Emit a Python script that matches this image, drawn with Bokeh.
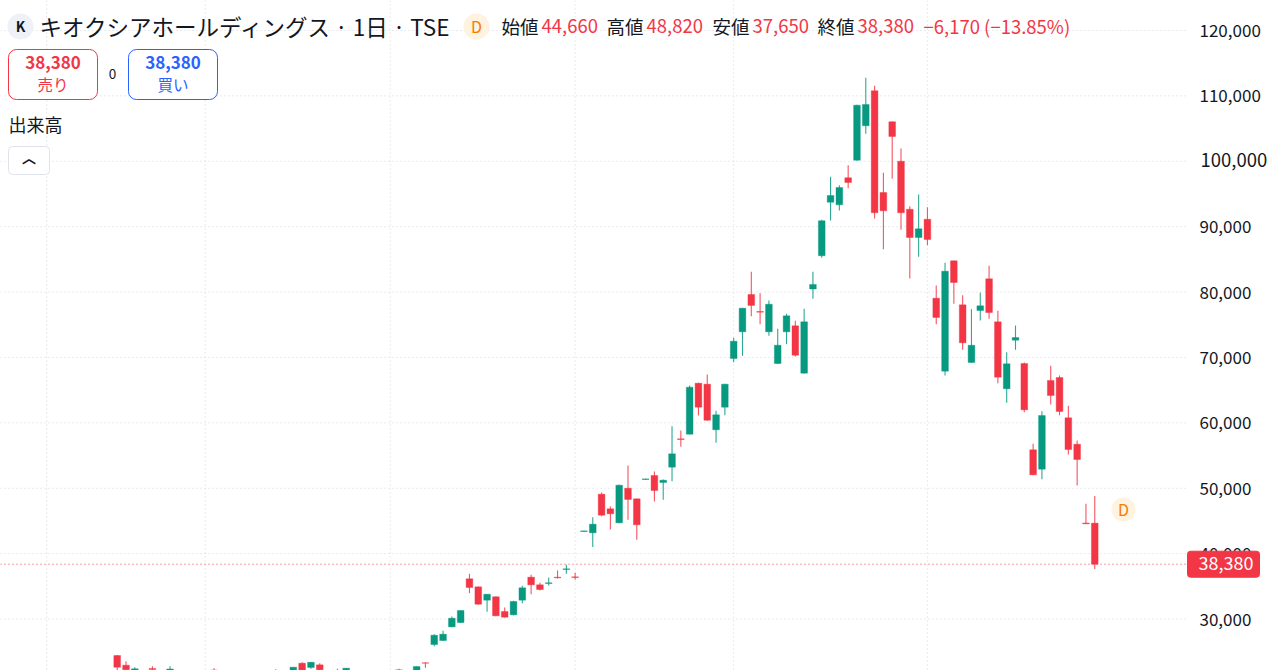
from bokeh.plotting import figure
from bokeh.models import (Range1d, LinearAxis, FixedTicker, Span, Label, BoxAnnotation,
                          ColumnDataSource, NumeralTickFormatter)
from bokeh.core.properties import value
from bokeh.embed import file_html
from bokeh.resources import INLINE

RED = "#f23645"
GREEN = "#089981"
INK = "#131722"
FONT = "Noto Sans CJK JP"

# session number, open, high, low, close (yen)
session = [0,1,2,4,6,11,18,20,21,22,23,25,26,32,34,35,36,37,38,39,40,41,42,43,44,45,46,47,48,49,50,51,52,53,54,55,56,57,58,59,
           60,61,62,63,64,65,66,67,68,69,70,71,72,73,74,75,76,77,78,79,80,81,82,83,84,85,86,87,88,89,90,91,92,93,94,95,96,97,98,99,
           100,101,102,103,104,105,106,107,108,109,110,111]
opens = [24420,22940,21800,22430,22200,22200,21900,21820,23240,22590,22990,22120,21820,22230,21820,23300,26100,26710,28800,29460,
         36150,34920,32880,33400,31150,30640,32880,36400,35230,35430,36400,37570,36450,43380,43180,49090,46850,44710,50000,48380,
         51330,51950,50880,53220,57560,58260,66060,65910,58940,62390,69840,73920,79630,77030,73920,69070,73920,74840,67590,80470,
         85550,93740,93340,97470,100170,105430,110780,95230,106040,100010,92670,88340,91140,79060,67900,84780,78050,69230,77180,82030,
         75450,65210,72640,69070,55880,52910,66480,66930,60770,56730,44680,44660]
highs = [24500,23550,22630,22780,22780,22480,22320,22660,23390,23420,23240,22380,22510,22380,22780,23350,27680,28200,30380,31350,
         36910,34970,33820,33440,31760,32780,35080,36760,35540,36350,37420,38290,37070,43500,45570,49350,47200,50570,53480,48430,
         51450,52560,51330,59490,58830,65710,66120,67390,61840,65970,73000,77590,83100,79830,78710,74380,76680,75600,77440,83100,
         91050,97630,96340,99400,108640,112770,111540,98240,106080,101950,93130,94920,92980,81000,84470,84830,79520,77380,79930,84010,
         77130,70800,74880,69230,56800,61780,68720,67240,62610,57300,47620,48820]
lows = [22000,21820,21500,21900,21900,21800,21700,21500,21500,22380,21970,21800,21500,21900,21500,22540,25840,26640,28730,29400,
        33950,32170,31100,30430,30180,30560,32420,33790,34360,35120,36200,36910,36000,43350,41010,45720,43690,44650,45170,42110,
        51310,47970,48230,51070,56340,58210,61120,60310,56950,61170,69270,70250,76310,75080,73310,69010,72030,70140,67540,78970,
        85240,90940,92470,95880,100070,104200,91250,86550,97320,89520,82070,85390,87170,75080,67240,78200,71170,69170,75650,75910,
        66060,63060,71170,61630,51990,51380,62800,61170,55160,50420,44530,37650]
closes = [22630,22230,22380,22280,22350,22050,22120,22630,21820,23390,22230,21970,22480,22120,22730,23250,27520,27680,30120,31300,
          34820,32260,33790,30490,30280,32680,34770,35230,34510,35540,36300,37680,36350,43480,44500,45880,46090,50460,48280,44410,
          51430,49650,51230,55260,57450,65450,62390,60400,61230,65910,72480,77530,77950,76920,78140,71870,76370,70340,75450,81160,
          90900,94770,95990,96750,108580,108680,92120,92430,103790,92120,88340,89670,88040,76110,83190,81460,72240,71870,77900,76870,
          66980,69030,73050,61990,52050,61120,64180,61730,55920,54390,44560,38380]

price_ticks = [30000,40000,50000,60000,70000,80000,90000,100000,110000,120000]
session_grid = [-8,10,31,52,70,92]
last_close = 38380
dividend_session = 114.26
dividend_price = 46750

header_quotes = [("始値", "44,660", 501, 541), ("高値", "48,820", 606, 646),
                 ("安値", "37,650", 712, 752), ("終値", "38,380", 817, 857)]

W, H = 1280, 670
Y_TOP, Y_BOTTOM = 124588, 22125
X_LEFT, X_PANE_END, X_RIGHT = -13.25, 121.3, 132.09
p = figure(width=W, height=H, output_backend="svg", toolbar_location=None,
           x_range=Range1d(X_LEFT, X_RIGHT), y_range=Range1d(Y_BOTTOM, Y_TOP),
           min_border_left=0, min_border_top=0, min_border_bottom=0, min_border_right=0,
           y_axis_location=None, x_axis_location=None)
p.outline_line_color = None
p.background_fill_color = "white"
p.border_fill_color = "white"
p.grid.visible = False

# negative standoff: the labels are drawn back over the right end of the frame,
# so the frame keeps the whole width and the price tag can sit on top of them
axis = LinearAxis(ticker=FixedTicker(ticks=price_ticks), formatter=NumeralTickFormatter(format="0,0"))
axis.major_tick_line_color = None
axis.minor_tick_line_color = None
axis.axis_line_color = None
axis.major_label_standoff = -87
axis.major_label_text_font = FONT
axis.major_label_text_font_size = "17px"
axis.major_label_text_color = INK
axis.major_label_overrides = {100000: ""}
p.add_layout(axis, "right")

GRID = "#d3d6dd"
p.segment([X_LEFT] * len(price_ticks), price_ticks, [X_PANE_END] * len(price_ticks), price_ticks,
          line_color=GRID, line_width=1, line_dash="1 3", level="underlay")
for s in session_grid:
    p.add_layout(Span(location=s, dimension="height", line_color=GRID, line_width=1, line_dash="1 3", level="underlay"))

rows = list(zip(session, opens, highs, lows, closes))
for color, pick in ((RED, lambda r: r[4] < r[1]), (GREEN, lambda r: r[4] >= r[1])):
    sel = [r for r in rows if pick(r)]
    src = ColumnDataSource(dict(x=[r[0] for r in sel], o=[r[1] for r in sel], h=[r[2] for r in sel],
                                l=[r[3] for r in sel], c=[r[4] for r in sel]))
    p.segment("x", "h", "x", "l", source=src, line_color=color, line_width=1.1, line_alpha=0.85)
    p.vbar("x", 0.76, "o", "c", source=src, fill_color=color, line_color=color, line_width=0.4)

p.segment([X_LEFT], [last_close], [X_PANE_END], [last_close], line_color=RED, line_width=1, line_dash="1 3")

def tx(text, x, y, color=INK, size=16, align="left", weight="normal"):
    """x, y are pixels measured from the page's top left corner"""
    p.add_layout(Label(x=x, y=H - y, x_units="screen", y_units="screen", text=text, text_color=color,
                       text_font=FONT, text_font_size=f"{size}px", text_align=align, text_baseline="middle",
                       text_font_style=weight))

def box(l, r, t, b, fill, line, radius):
    p.add_layout(BoxAnnotation(left=l, right=r, top=H - t, bottom=H - b,
                               left_units="screen", right_units="screen", top_units="screen", bottom_units="screen",
                               fill_color=fill, fill_alpha=1, line_color=line, line_alpha=1, line_width=1,
                               border_radius=radius, level="annotation"))

def price_y(v):
    return H * (Y_TOP - v) / (Y_TOP - Y_BOTTOM)

box(7, 33, 13, 39, "#eef1f8", None, 13)
tx("K", 20, 25, "#131722", 14, "center", "bold")
tx("キオクシアホールディングス · 1日 · TSE", 39, 25, INK, 22.5)
box(463, 489, 13, 39, "#fff3e0", None, 13)
tx("D", 476, 25, "#f57c00", 16, "center")
for name, val, xn, xv in header_quotes:
    tx(name, xn, 25, INK, 18.5)
    tx(val, xv, 25, RED, 18.5)
tx("−6,170 (−13.85%)", 923, 25, RED, 18.5)

box(8, 97, 49, 99, "white", RED, 8)
tx("38,380", 52.5, 62, RED, 17, "center", "bold")
tx("売り", 52.5, 83, RED, 15.5, "center")
tx("0", 112, 73, INK, 13.5, "center")
box(128, 217, 49, 99, "white", "#2962ff", 8)
tx("38,380", 172.5, 62, "#2962ff", 17, "center", "bold")
tx("買い", 172.5, 83, "#2962ff", 15.5, "center")
tx("出来高", 8, 123, INK, 18)
box(8, 49, 146, 174, "white", "#e0e3eb", 4)
tx("︿", 28.5, 156, INK, 14, "center", "bold")

# dividend badge next to the last candle
p.scatter([dividend_session], [dividend_price], size=24, fill_color="#fff3e0", line_color=None)
p.text([dividend_session], [dividend_price], text=["D"], text_color="#f57c00", text_font_size="16px",
       text_align="center", text_baseline="middle", text_font=value(FONT))

# last price tag and the enlarged 100,000 label
box(1187, 1259, price_y(last_close) - 13, price_y(last_close) + 13, RED, RED, 3)
tx("38,380", 1225.5, price_y(last_close) - 1, "white", 18, "center")
tx("100,000", 1200, price_y(100000) - 1, INK, 18.5)

open("out.html", "w").write(file_html(p, INLINE))
